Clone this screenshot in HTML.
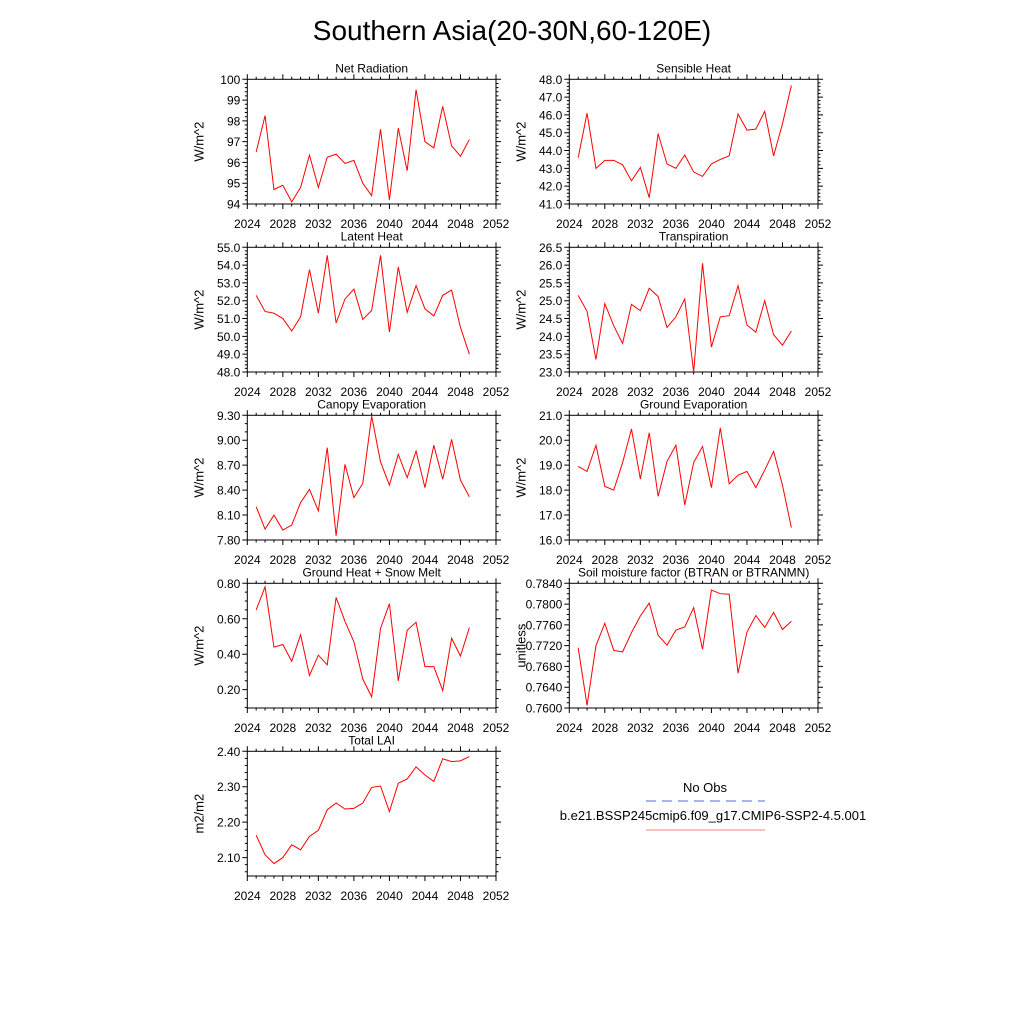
<!DOCTYPE html>
<html><head><meta charset="utf-8"><style>
body{margin:0;background:#fff}
svg{display:block;font-family:"Liberation Sans",sans-serif}
</style></head><body>
<svg id="fig" width="1024" height="1024" viewBox="0 0 1024 1024">
<rect width="1024" height="1024" fill="#fff"/>
<text x="512" y="40" font-size="28" text-anchor="middle">Southern Asia(20-30N,60-120E)</text>
<g>
<text x="705" y="792" font-size="13" text-anchor="middle">No Obs</text>
<line x1="646" y1="801" x2="765" y2="801" stroke="#5566ee" stroke-width="1" stroke-dasharray="10,6"/>
<text x="713" y="820" font-size="13" text-anchor="middle">b.e21.BSSP245cmip6.f09_g17.CMIP6-SSP2-4.5.001</text>
<line x1="646" y1="830" x2="765" y2="830" stroke="#f08080" stroke-width="1"/>
</g>
</svg>
<script>
const years=[2025,2026,2027,2028,2029,2030,2031,2032,2033,2034,2035,2036,2037,2038,2039,2040,2041,2042,2043,2044,2045,2046,2047,2048,2049];
const xTicks=[2024,2028,2032,2036,2040,2044,2048,2052];
const netRad=[96.5,98.25,94.7,94.9,94.1,94.8,96.35,94.8,96.25,96.4,95.95,96.1,95.0,94.4,97.6,94.2,97.65,95.6,99.5,97.0,96.7,98.7,96.8,96.3,97.1];
const sensible=[43.6,46.1,43.0,43.45,43.45,43.2,42.3,43.05,41.35,44.95,43.25,43.0,43.75,42.8,42.55,43.25,43.5,43.7,46.05,45.15,45.2,46.2,43.7,45.5,47.65];
const latent=[52.3,51.4,51.3,51.0,50.3,51.1,53.75,51.3,54.55,50.75,52.1,52.65,50.95,51.45,54.55,50.25,53.9,51.35,52.85,51.55,51.15,52.3,52.6,50.5,49.0];
const transp=[25.15,24.7,23.35,24.92,24.3,23.8,24.9,24.72,25.35,25.12,24.25,24.55,25.05,23.0,26.05,23.7,24.55,24.58,25.42,24.32,24.12,25.0,24.05,23.75,24.15];
const canopy=[8.20,7.93,8.10,7.92,7.98,8.25,8.41,8.15,8.91,7.85,8.71,8.31,8.48,9.29,8.74,8.46,8.83,8.55,8.87,8.43,8.94,8.53,9.01,8.52,8.32];
const groundEvap=[18.95,18.75,19.8,18.15,18.0,19.1,20.45,18.45,20.3,17.75,19.15,19.8,17.4,19.1,19.75,18.1,20.5,18.25,18.6,18.75,18.1,18.8,19.55,18.2,16.5];
const groundHeat=[0.65,0.78,0.44,0.455,0.36,0.51,0.28,0.395,0.34,0.72,0.585,0.47,0.26,0.16,0.545,0.685,0.25,0.535,0.58,0.33,0.33,0.195,0.49,0.39,0.55];
const soilMoist=[0.7716,0.7605,0.7720,0.7763,0.7711,0.7708,0.7745,0.7777,0.7802,0.7740,0.7721,0.7750,0.7756,0.7793,0.7713,0.7827,0.7820,0.7819,0.7667,0.7746,0.7778,0.7755,0.7784,0.7751,0.7767];
const lai=[2.163,2.108,2.083,2.100,2.136,2.122,2.160,2.177,2.235,2.254,2.237,2.239,2.254,2.298,2.302,2.230,2.310,2.322,2.356,2.333,2.315,2.379,2.371,2.373,2.385];
const tickNet=[94,95,96,97,98,99,100];
const tickSens=[41,42,43,44,45,46,47,48];
const tickLat=[48,49,50,51,52,53,54,55];
const tickTr=[23,23.5,24,24.5,25,25.5,26,26.5];
const tickCan=[7.8,8.1,8.4,8.7,9.0,9.3];
const tickGE=[16,17,18,19,20,21];
const tickGH=[0.2,0.4,0.6,0.8];
const tickSM=[0.76,0.764,0.768,0.772,0.776,0.78,0.784];
const tickLai=[2.1,2.2,2.3,2.4];

const NS="http://www.w3.org/2000/svg";
const svg=document.getElementById('fig');
function mk(tag,attrs,parent){const e=document.createElementNS(NS,tag);for(const k in attrs)e.setAttribute(k,attrs[k]);parent.appendChild(e);return e;}

const panels=[
 {id:'net-radiation',title:'Net Radiation',unit:'W/m^2',x0:247.3,y0:79.3,data:netRad,ticks:tickNet,ymin:94,ymax:100,dec:0,minor:5},
 {id:'sensible-heat',title:'Sensible Heat',unit:'W/m^2',x0:569.3,y0:79.3,data:sensible,ticks:tickSens,ymin:41,ymax:48,dec:1,minor:5},
 {id:'latent-heat',title:'Latent Heat',unit:'W/m^2',x0:247.3,y0:247.3,data:latent,ticks:tickLat,ymin:48,ymax:55,dec:1,minor:5},
 {id:'transpiration',title:'Transpiration',unit:'W/m^2',x0:569.3,y0:247.3,data:transp,ticks:tickTr,ymin:23,ymax:26.5,dec:1,minor:5},
 {id:'canopy-evaporation',title:'Canopy Evaporation',unit:'W/m^2',x0:247.3,y0:415.3,data:canopy,ticks:tickCan,ymin:7.8,ymax:9.3,dec:2,minor:3},
 {id:'ground-evaporation',title:'Ground Evaporation',unit:'W/m^2',x0:569.3,y0:415.3,data:groundEvap,ticks:tickGE,ymin:16,ymax:21,dec:1,minor:5},
 {id:'ground-heat',title:'Ground Heat + Snow Melt',unit:'W/m^2',x0:247.3,y0:583.3,data:groundHeat,ticks:tickGH,ymin:0.0966,ymax:0.8,dec:2,minor:4},
 {id:'soil-moisture',title:'Soil moisture factor (BTRAN or BTRANMN)',unit:'unitless',x0:569.3,y0:583.3,data:soilMoist,ticks:tickSM,ymin:0.76,ymax:0.784,dec:4,minor:4},
 {id:'total-lai',title:'Total LAI',unit:'m2/m2',x0:247.3,y0:751.3,data:lai,ticks:tickLai,ymin:2.048,ymax:2.4,dec:2,minor:5}
];
const W=248.7,H=124.7,X0=2024,X1=2052;

panels.forEach(p=>{
 const g=mk('g',{},svg);
 
 
 const sx=v=>p.x0+(v-X0)/(X1-X0)*W;
 const sy=v=>p.y0+H-(v-p.ymin)/(p.ymax-p.ymin)*H;
 const t=mk('text',{x:p.x0+W/2,y:p.y0-7,'font-size':12,'text-anchor':'middle'},g);
 t.textContent=p.title;
 
 
 const yl=mk('text',{x:0,y:0,'font-size':13,'text-anchor':'middle',transform:`translate(${p.x0-44},${p.y0+H/2}) rotate(-90)`},g);
 yl.textContent=p.unit;
 
 
 // x ticks
 let d='';
 for(let yr=X0;yr<=X1;yr++){
  const x=sx(yr);const L=(yr%4===0)?5:2.5;
  d+=`M${x},${p.y0+H}v${L}M${x},${p.y0}v${-L}`;
 }
 xTicks.forEach(v=>{
  const tl=mk('text',{x:sx(v),y:p.y0+H+24,'font-size':12,'text-anchor':'middle'},g);
  tl.textContent=v;
  
  
 });
 // y ticks
 const step=p.ticks[1]-p.ticks[0];
 const ms=step/p.minor;
 for(let v=p.ticks[0]-step;v<=p.ymax+1e-9;v+=ms){
  if(v<p.ymin-1e-9)continue;
  const y=sy(v);
  const isMaj=p.ticks.some(tk=>Math.abs(tk-v)<ms/10);
  const L=isMaj?5:2.5;
  d+=`M${p.x0},${y}h${-L}M${p.x0+W},${y}h${L}`;
 }
 mk('path',{d:d,stroke:'#000','stroke-width':1,fill:'none'},g);
 p.ticks.forEach(v=>{
  const tl=mk('text',{x:p.x0-7,y:sy(v)+4.5,'font-size':12,'text-anchor':'end'},g);
  tl.textContent=v.toFixed(p.dec);
  
  
 });
 const fr=mk('rect',{x:p.x0,y:p.y0,width:W,height:H,fill:'none',stroke:'#000','stroke-width':1},g);
 
 
 const pts=p.data.map((v,i)=>`${sx(years[i]).toFixed(2)},${sy(v).toFixed(2)}`).join(' ');
 const ln=mk('polyline',{points:pts,fill:'none',stroke:'#ff0000','stroke-width':1},g);
 
 
});
</script>
</body></html>
